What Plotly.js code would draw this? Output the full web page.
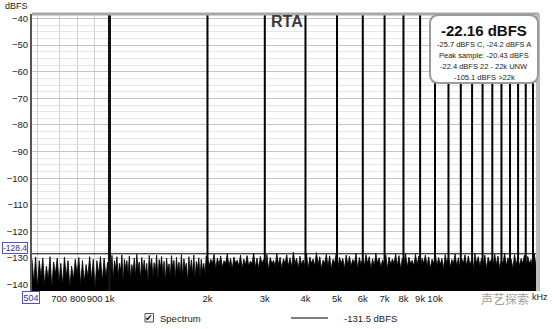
<!DOCTYPE html>
<html>
<head>
<meta charset="utf-8">
<script src="https://cdn.plot.ly/plotly-3.0.1.min.js"></script>
<style>
html,body{margin:0;padding:0;background:#fff;}
#chart{width:554px;height:329px;}
</style>
</head>
<body>
<div id="chart"></div>
<script>
// ---------------- data ----------------
const harmonicFreqs = [2000,3000,4000,5000,6000,7000,8000,9000,10000,11000,12000,13000,14000,15000,16000,17000,18000,19000,20000];
const harmonicLevels = [-30,-31,-30,-32,-31,-33,-32,-33,-32,-34,-33,-34,-33,-35,-34,-35,-34,-36,-35];
const fundamentalFreq = [1000];
const fundamentalLevel = [-22.16];

// noise band edges (Hz)
const noiseBandEdges = [578, 1000, 2000, 20430];
// noise levels (dBFS), band by band
const noiseLow = [-130.5,-139,-129.6,-141,-131,-137,-130,-140,-133,-138,-129.5,-141,-131.5,-136,-130,-139,-132,-140,-129.6,-137,-131,-141,-133,-138,-130.5,-136,-129.8,-140,-131,-139,-132.5,-137,-129.5,-138,-130.5,-141,-131,-136,-129.5,-139,-130,-137,-131.5,-138];
const noiseMid = [-130,-136,-129,-138,-131,-134,-129.5,-137,-132,-135,-128.8,-139,-130.5,-134,-131,-136,-129.2,-138,-132.5,-135,-130,-137,-128.6,-134,-131.5,-138,-129.8,-135,-130.8,-136,-132,-139,-129,-134,-130.2,-137,-131.8,-135,-128.9,-138,-130.6,-134,-129.4,-136,-131.2,-139,-130,-135,-132.2,-137,-129.1,-134,-130.9,-138,-129.7,-135,-131.6,-136,-128.7,-137,-130.3,-134,-131.9,-139,-129.5,-135,-130.7,-136,-128.9,-138,-131.3,-134,-129.9,-137,-130.5,-135,-132,-136,-129.2,-134];
const noiseHigh = [
-129.5,-133,-130.5,-132,-128.6,-134,-130,-132.5,-129.2,-133.5,
-131,-132,-128.4,-133,-130.2,-134,-129.6,-132,-130.8,-133,
-128.9,-134,-130.4,-132.5,-129.1,-133,-131.2,-132,-128.2,-133.5,
-130,-134,-129.4,-132,-130.6,-133,-128.7,-134.5,-129.8,-132,
-130.9,-133,-128.3,-132.5,-129.7,-134,-130.3,-132,-128.8,-133,
-129.9,-133.5,-127.8,-132,-130.1,-134,-129.3,-132.5,-130.7,-133,
-128.5,-134,-129.6,-132,-130.4,-133,-127.9,-132.5,-129.5,-134,
-130.8,-132,-128.6,-133,-129.2,-134,-130.5,-132,-128.1,-133.5,
-129.7,-132,-130.2,-134,-128.9,-132.5,-129.4,-133,-130.6,-132,
-128.3,-134,-129.8,-132.5,-130.1,-133,-128.7,-132,-129.5,-134,
-130.3,-133,-128.2,-132,-129.9,-133.5,-130.7,-132,-128.8,-134,
-129.6,-132.5,-130.4,-132,-128.5,-133,-129.1,-134,-130.2,-132,
-128.4,-133.5,-129.7,-132,-130.9,-133,-128.6,-132.5,-129.3,-134,
-130.1,-132,-128.9,-133,-129.6,-134,-130.5,-132,-128.3,-133,
-129.8,-132.5,-130.2,-134,-128.7,-132,-129.4,-133.5,-130.6,-132,
-128.5,-133,-129.9,-134,-130.3,-132,-128.8,-133,-129.2,-132.5,
-130.7,-134,-128.4,-132,-129.5,-133,-130.1,-132.5,-128.9,-134,
-129.7,-132,-130.4,-133,-128.6,-132.5,-129.3,-134,-130.8,-132,
-128.2,-133,-129.9,-132,-130.5,-134,-128.7,-132.5,-129.6,-133,
-130.2,-132,-128.9,-133.5,-129.4,-132,-130.6,-134,-128.5,-133];
const noiseFloorBase = -150;
const cursorLevel = -128.4;
const cursorText = "-128.4";
const legendLevelText = "-131.5 dBFS";

const yTickVals = [-40,-50,-60,-70,-80,-90,-100,-110,-120,-130,-140];
const xTickVals = [600,700,800,900,1000,2000,3000,4000,5000,6000,7000,8000,9000,10000,11000,12000,13000,14000,15000,16000,17000,18000,19000,20000];
const xTickText = ['','700','800','900','1k','2k','3k','4k','5k','6k','7k','8k','9k','10k','','','','','','','','','',''];

const readout = {
  main: "-22.16 dBFS",
  lines: ["-25.7 dBFS C, -24.2 dBFS A", "Peak sample: -20.43 dBFS", "-22.4 dBFS 22 - 22k UNW", "-105.1 dBFS >22k"]
};

// ---------------- build ----------------
function bandFreqs(fa, fb, n){
  const out=[];
  for(let k=0;k<n;k++) out.push(fa*Math.pow(fb/fa, k/(n-1)));
  return out;
}
const bands=[noiseLow,noiseMid,noiseHigh];
let nx=[], ny=[];
bands.forEach((b,i)=>{
  const f=bandFreqs(noiseBandEdges[i], noiseBandEdges[i+1], b.length);
  nx=nx.concat(f); ny=ny.concat(b);
});

function segs(freqs, levels){
  const x=[],y=[];
  freqs.forEach((f,i)=>{x.push(f,f,null); y.push(noiseFloorBase, levels[i], null);});
  return {x,y};
}
const hs=segs(harmonicFreqs, harmonicLevels);
const fs=segs(fundamentalFreq, fundamentalLevel);

const L=32,R=536,T=14,B=291,W=554,H=329;
const px=x=>(x-L)/(R-L);
const py=y=>(B-y)/(B-T);

const traces=[
  {x:[nx[0], nx[nx.length-1]], y:[noiseFloorBase,noiseFloorBase], mode:'lines', line:{width:0,color:'rgba(0,0,0,0)'}, hoverinfo:'skip', showlegend:false},
  {x:nx, y:ny, mode:'lines', fill:'tonexty', fillcolor:'#000', line:{color:'#000', width:0.8}, showlegend:false},
  {x:hs.x, y:hs.y, mode:'lines', line:{color:'#000', width:2}, showlegend:false},
  {x:fs.x, y:fs.y, mode:'lines', line:{color:'#111', width:3}, showlegend:false}
];

// rounded box path in paper coords
function roundRect(x0,y0,x1,y1,r){
  const X=v=>px(v).toFixed(5), Y=v=>py(v).toFixed(5);
  return `M ${X(x0+r)} ${Y(y0)} L ${X(x1-r)} ${Y(y0)} Q ${X(x1)} ${Y(y0)} ${X(x1)} ${Y(y0+r)} `+
         `L ${X(x1)} ${Y(y1-r)} Q ${X(x1)} ${Y(y1)} ${X(x1-r)} ${Y(y1)} `+
         `L ${X(x0+r)} ${Y(y1)} Q ${X(x0)} ${Y(y1)} ${X(x0)} ${Y(y1-r)} `+
         `L ${X(x0)} ${Y(y0+r)} Q ${X(x0)} ${Y(y0)} ${X(x0+r)} ${Y(y0)} Z`;
}

const font='"Liberation Sans", Arial, sans-serif';
const ann=(text,x,y,o={})=>Object.assign({text, xref:'paper', yref:'paper', x:px(x), y:py(y), showarrow:false, font:{family:font,size:9.5,color:'#222'}, xanchor:'center', yanchor:'middle'},o);

const annotations=[
  ann('RTA',287,21,{font:{family:font,size:16,color:'#3a3a3a',weight:'bold'}}),
  ann('dBFS',16,6,{font:{family:font,size:9,color:'#222'}}),
  ann(readout.main,484,31,{font:{family:font,size:15,color:'#111',weight:'bold'}}),
  ann(readout.lines[0],484,44,{font:{family:font,size:7.5,color:'#222'}}),
  ann(readout.lines[1],484,55,{font:{family:font,size:7.5,color:'#222'}}),
  ann(readout.lines[2],484,66.5,{font:{family:font,size:7.5,color:'#222'}}),
  ann(readout.lines[3],484,77.5,{font:{family:font,size:7.5,color:'#222'}}),
  {text:cursorText, xref:'paper', yref:'y', x:px(15), y:cursorLevel, yshift:6, showarrow:false,
   font:{family:font,size:8.5,color:'#3030a0'}, bordercolor:'#5050c8', borderwidth:1, borderpad:0, bgcolor:'#fff', xanchor:'center', yanchor:'middle'},
  ann('504',31,297.5,{font:{family:font,size:9,color:'#3030a0'}, bordercolor:'#5050c8', borderwidth:1, borderpad:0.5, bgcolor:'#fff'}),
  ann('kHz',540,297.5,{font:{family:font,size:9,color:'#222'}}),
  ann('声艺探索',505,298,{font:{family:'"Noto Sans CJK SC", sans-serif',size:12,color:'#a0a0a0'}}),
  ann('✔',149,318,{font:{family:'DejaVu Sans',size:9,color:'#222'}}),
  ann('Spectrum',158,318,{xanchor:'left'}),
  ann(legendLevelText,342,318,{xanchor:'left'})
];

const shapes=[
  {type:'line', xref:'paper', yref:'y', x0:0, x1:1, y0:cursorLevel, y1:cursorLevel, line:{color:'#000',width:1.2}, layer:'above'},
  {type:'line', xref:'paper', yref:'paper', x0:0, x1:1.006, y0:1, y1:1, line:{color:'#a8a8a8',width:3}, layer:'above'},
  {type:'line', xref:'paper', yref:'paper', x0:1.004, x1:1.004, y0:0, y1:1, line:{color:'#bdbdbd',width:4}, layer:'above'},
  {type:'path', xref:'paper', yref:'paper', path:roundRect(430,15,538,83,9), fillcolor:'#fff', line:{color:'#9a9a9a',width:2}, layer:'above'},
  {type:'rect', xref:'paper', yref:'paper', x0:px(145), x1:px(153.5), y0:py(322), y1:py(313.5), fillcolor:'#f2f2f2', line:{color:'#555',width:1}, layer:'above'},
  {type:'line', xref:'paper', yref:'paper', x0:px(291), x1:px(328), y0:py(318), y1:py(318), line:{color:'#000',width:1.2}, layer:'above'}
];

const layout={
  width:W, height:H,
  margin:{l:L, r:W-R, t:T, b:H-B, pad:0},
  paper_bgcolor:'#fff', plot_bgcolor:'#fff',
  showlegend:false,
  xaxis:{type:'log', range:[Math.log10(578), Math.log10(20430)], tickvals:xTickVals, ticktext:xTickText, tickangle:0,
    showgrid:true, gridcolor:'#d2d2d2', gridwidth:1, zeroline:false, showline:false, ticks:'',
    tickfont:{family:font,size:9.5,color:'#222'}, fixedrange:true},
  yaxis:{range:[-142.4,-38.3], tickvals:yTickVals, showgrid:true, gridcolor:'#c4c4c4', gridwidth:1,
    minor:{tick0:-40, dtick:2.5, showgrid:true, gridcolor:'#e6e6e6', ticks:''},
    zeroline:false, showline:true, linecolor:'#555', linewidth:2, ticks:'',
    tickfont:{family:font,size:9.5,color:'#222'}, fixedrange:true},
  annotations, shapes
};

Plotly.newPlot('chart', traces, layout, {staticPlot:true, displayModeBar:false});
</script>
</body>
</html>
